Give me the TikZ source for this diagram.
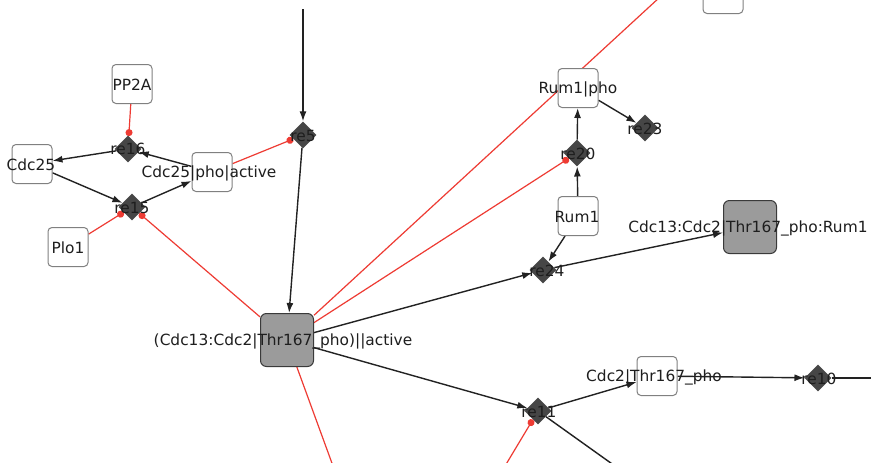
\documentclass[tikz,border=0pt]{standalone}
\usepackage{fontspec}
\newfontfamily\lblfont{DejaVu Sans}
\usetikzlibrary{arrows.meta,shapes.geometric,backgrounds}
\definecolor{boxgray}{HTML}{808080}
\definecolor{cplxgray}{HTML}{9B9B9B}
\definecolor{darkline}{HTML}{3A3A3A}
\definecolor{rxgray}{HTML}{464646}
\definecolor{edgeblack}{HTML}{222222}
\definecolor{modred}{HTML}{EE3B33}
\definecolor{textgray}{HTML}{1E1E1E}
\begin{document}
\begin{tikzpicture}[x=1pt,y=-1pt,
 species/.style={rectangle,rounded corners=4pt,draw=boxgray,line width=1pt,fill=white,minimum width=40pt,minimum height=39pt,inner sep=0pt},
 complex/.style={species,fill=cplxgray,draw=darkline,minimum width=53pt,minimum height=53pt,rounded corners=6pt},
 reaction/.style={diamond,fill=rxgray,draw=none,minimum width=27pt,minimum height=27pt,inner sep=0pt},
 lbl/.style={font=\lblfont\fontsize{15.4}{18}\selectfont,text=textgray,inner sep=0pt},
 conv/.style={draw=edgeblack,line width=1.4pt,-{Latex[length=10pt,width=7pt]}},
 plainline/.style={draw=edgeblack,line width=1.4pt},
 mod/.style={draw=modred,line width=1.2pt,-{Circle[length=7pt]}},
 redline/.style={draw=modred,line width=1.2pt}]
\useasboundingbox (0,0) rectangle (871,463);
% species
\node[species] (pp2a) at (132,84) {};
\node[species] (cdc25) at (32,164) {};
\node[species] (cpa) at (212,172) {};
\node[species] (plo1) at (68,247) {};
\node[complex] (big) at (287,340) {};
\node[species] (rum1p) at (578,88) {};
\node[species] (rum1) at (578,216) {};
\node[complex] (cplx2) at (750,227) {};
\node[species] (cdc2t) at (657,376) {};
\node[species] (topbox) at (723,-6) {};
% reactions
\node[reaction] (re16) at (128,149) {};
\node[reaction] (re15) at (132,207) {};
\node[reaction] (re5) at (303,135) {};
\node[reaction] (re20) at (577,153) {};
\node[reaction] (re23) at (645,128) {};
\node[reaction] (re24) at (543,270) {};
\node[reaction] (re11) at (538,411) {};
\node[reaction] (re10) at (818,378) {};
% free ends
\coordinate (topin) at (303,9);
\coordinate (topout) at (660,-3);
\coordinate (botred) at (333,466);
\coordinate (botout) at (615,466);
\coordinate (redin) at (505,466);
\coordinate (rightout) at (875,378);
% labels
\node[lbl] (pp2aL) at (132,85) {PP2A};
\node[lbl] (cdc25L) at (31,165) {Cdc25};
\node[lbl] (cpaL) at (209,173) {Cdc25|pho|active};
\node[lbl] (plo1L) at (68,248) {Plo1};
\node[lbl] (bigL) at (283,341) {(Cdc13:Cdc2|Thr167\_pho)||active};
\node[lbl] (rum1pL) at (578,89) {Rum1|pho};
\node[lbl] (rum1L) at (577,217) {Rum1};
\node[lbl] (cplx2L) at (748,228) {Cdc13:Cdc2|Thr167\_pho:Rum1};
\node[lbl] (cdc2tL) at (654,377) {Cdc2|Thr167\_pho};
\node[lbl] (re16L) at (128,149) {re16};
\node[lbl] (re15L) at (132,208) {re15};
\node[lbl] (re5L) at (303,136) {re5};
\node[lbl] (re20L) at (578,154) {re20};
\node[lbl] (re23L) at (645,129) {re23};
\node[lbl] (re24L) at (547,271) {re24};
\node[lbl] (re11L) at (539,412) {re11};
\node[lbl] (re10L) at (819,379) {re10};
% connectors
\begin{pgfonlayer}{background}
\fill[white] (0,0) rectangle (871,463);
\draw[mod] (pp2a) -- (re16);
\draw[conv] (cpa) -- (re16);
\draw[conv] (re16) -- (cdc25);
\draw[conv] (cdc25) -- (re15);
\draw[conv] (re15) -- (cpa);
\draw[mod] (plo1) -- (re15);
\draw[mod] (big) -- (re15);
\draw[mod] (cpa) -- (re5);
\draw[conv] (topin) -- (re5);
\draw[conv] (re5) -- (big);
\draw[redline] (big) -- (topout);
\draw[mod] (big) -- (re20);
\draw[redline] (big) -- (botred);
\draw[conv] (big) -- (re24);
\draw[conv] (big) -- (re11);
\draw[conv] (rum1) -- (re20);
\draw[conv] (re20) -- (rum1p);
\draw[conv] (rum1p) -- (re23);
\draw[conv] (rum1) -- (re24);
\draw[conv] (re24) -- (cplx2);
\draw[conv] (re11) -- (cdc2t);
\draw[plainline] (re11) -- (botout);
\draw[mod] (redin) -- (re11);
\draw[conv] (cdc2t) -- (re10);
\draw[plainline] (re10) -- (rightout);
\end{pgfonlayer}
\end{tikzpicture}
\end{document}
